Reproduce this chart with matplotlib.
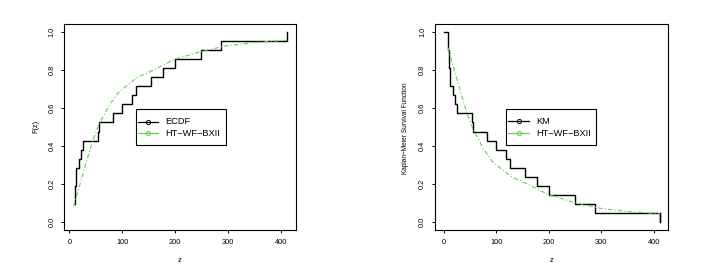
import matplotlib
matplotlib.use("Agg")
import matplotlib.pyplot as plt
from matplotlib.lines import Line2D
from matplotlib.patches import Rectangle

plt.rcParams['font.family'] = ['Liberation Sans', 'DejaVu Sans']

# data (sorted observations, n = 21)
obs = [8.5, 8.5, 10, 10, 13, 13, 18, 22, 25, 54, 56.5, 82, 100, 118, 126,
       154, 178, 200, 250, 288, 412]
ecdf_vals = [2/21, 2/21, 4/21, 4/21, 6/21, 6/21, 7/21, 8/21, 9/21, 10/21, 11/21,
             12/21, 13/21, 14/21, 15/21, 16/21, 17/21, 18/21, 19/21, 20/21, 21/21]
km_times = [0] + obs
km_vals = [1.0, 19/21, 19/21, 17/21, 17/21, 15/21, 15/21, 14/21, 13/21, 12/21,
           11/21, 10/21, 9/21, 8/21, 7/21, 6/21, 5/21, 4/21, 3/21, 2/21, 1/21, 0.0]

# fitted HT-WF-BXII curve
z_fit = [8.5, 15, 22.7, 30, 35.4, 45, 57.5, 76.5, 92, 115, 130, 160, 200,
         250, 300, 350, 412]
F_fit = [0.084, 0.15, 0.224, 0.295, 0.346, 0.434, 0.521, 0.617, 0.678, 0.731,
         0.762, 0.80, 0.855, 0.897, 0.927, 0.943, 0.955]
S_fit = [0.916, 0.85, 0.776, 0.705, 0.654, 0.566, 0.479, 0.383, 0.322, 0.269,
         0.238, 0.20, 0.145, 0.103, 0.073, 0.057, 0.045]

xticks = [0, 100, 200, 300, 400]
yticks = [0.0, 0.2, 0.4, 0.6, 0.8, 1.0]
ytick_labels = ['0.0', '0.2', '0.4', '0.6', '0.8', '1.0']

GREEN = '#61D04F'
W, H = 708, 273
fig = plt.figure(figsize=(W / 100, H / 100), dpi=100)

def make_ax(x0, x1, y0, y1):
    return fig.add_axes([x0 / W, 1 - y1 / H, (x1 - x0) / W, (y1 - y0) / H])

ax1 = make_ax(64.3, 296, 24, 230)
ax2 = make_ax(435, 668.3, 24, 230)

dash = (0, (4, 2, 1, 2))

for ax in (ax1, ax2):
    for s in ax.spines.values():
        s.set_linewidth(0.8)
    ax.set_xticks(xticks)
    ax.set_xticklabels([str(t) for t in xticks])
    ax.set_yticks(yticks)
    ax.set_yticklabels(ytick_labels, rotation=90, va='center')
    ax.tick_params(axis='both', direction='out', length=2.5, width=0.7,
                   labelsize=5.3, pad=4)
    ax.set_ylim(-0.04, 1.04)

ax1.set_xlim(-9.5, 429)
ax2.set_xlim(-16.4, 427.5)

ax1.step(obs, ecdf_vals, where='post', color='black', lw=1.0)
ax1.plot(z_fit, F_fit, color=GREEN, lw=0.8, linestyle=dash)

ax2.step(km_times, km_vals[:len(km_times)], where='post', color='black', lw=1.0)
ax2.plot([obs[-1], obs[-1]], [km_vals[-2], km_vals[-1]], color='black', lw=1.0)
ax2.plot(z_fit, S_fit, color=GREEN, lw=0.8, linestyle=dash)

# axis labels
fig.text(36 / W, 1 - 126.7 / H, 'F(z)', rotation=90, ha='center', va='center', fontsize=5.3)
fig.text(180 / W, 1 - 261 / H, 'z', ha='center', va='center', fontsize=5.5)
fig.text(405.7 / W, 1 - 128 / H, 'Kaplan\u2212Meier Survival Function', rotation=90,
         ha='center', va='center', fontsize=4.7)
fig.text(551.5 / W, 1 - 261 / H, 'z', ha='center', va='center', fontsize=5.5)

def fx(x):
    return x / W

def fy(y):
    return 1 - y / H

def legend(labels, box, line_x, text_x, rows):
    x0, y0, x1, y1 = box
    fig.add_artist(Rectangle((fx(x0), fy(y1)), fx(x1) - fx(x0), fy(y0) - fy(y1),
                             transform=fig.transFigure, facecolor='white',
                             edgecolor='black', linewidth=0.8, zorder=5))
    for lab, col, ry in zip(labels, ['black', GREEN], rows):
        fig.add_artist(Line2D([fx(line_x[0]), fx(line_x[1])], [fy(ry), fy(ry)],
                              transform=fig.transFigure, color=col, lw=0.9, zorder=6))
        fig.add_artist(Line2D([fx((line_x[0] + line_x[1]) / 2)], [fy(ry)],
                              transform=fig.transFigure, color=col, marker='o',
                              markersize=3, markerfacecolor='none',
                              markeredgewidth=0.7, linestyle='none', zorder=6))
        fig.text(fx(text_x), fy(ry), lab, ha='left', va='center', fontsize=6.7, zorder=7)

legend(['ECDF', 'HT\u2212WF\u2212BXII'], (136, 109.3, 226, 145.3),
       (138.3, 158.3), 165.7, (121.7, 133.3))
legend(['KM', 'HT\u2212WF\u2212BXII'], (506.3, 109.3, 595.7, 145.3),
       (508.3, 529), 536.3, (121.2, 133.3))

fig.savefig('out.png', dpi=100)
